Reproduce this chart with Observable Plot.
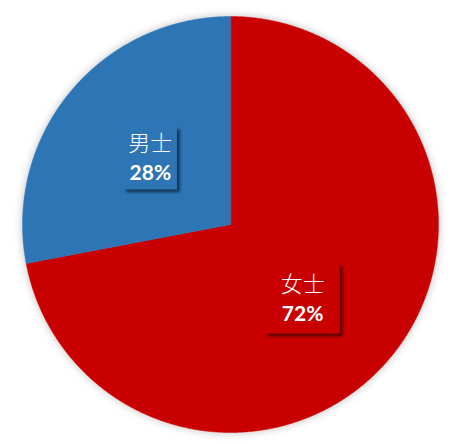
<!DOCTYPE html>
<html>
<head>
<meta charset="utf-8">
<script src="https://cdn.jsdelivr.net/npm/d3@7"></script>
<script src="https://cdn.jsdelivr.net/npm/@observablehq/plot@0.6"></script>
<style>
  html, body { margin: 0; padding: 0; background: #fff; }
</style>
</head>
<body>
<div id="chart"></div>
<script>
// ---- data ----
const categories = ["女士", "男士"];
const shares = [72, 28];
const colors = ["#C80000", "#2E75B6"];

// ---- label styling (pixels) ----
const boxW = [75, 54];
const boxH = [70, 63];
const nudgeX = [-8, 0];
const nudgeY = [8, 0];

const W = 459, H = 444;
const R = 208; // pixel radius
const mL = 22, mR = 21, mT = 16, mB = 12;

// pie geometry from values
const arcs = d3.pie().sort(null).value(d => d)(shares);
const slicePts = [];
arcs.forEach((a, i) => {
  slicePts.push({name: categories[i], x: 0, y: 0});
  const n = Math.max(2, Math.ceil((a.endAngle - a.startAngle) / 0.005));
  for (let k = 0; k <= n; k++) {
    const t = a.startAngle + (a.endAngle - a.startAngle) * k / n;
    slicePts.push({name: categories[i], x: Math.sin(t), y: Math.cos(t)});
  }
});

const labels = arcs.map((a, i) => {
  const m = (a.startAngle + a.endAngle) / 2;
  return {
    name: categories[i],
    pct: shares[i] + "%",
    x: 0.5 * Math.sin(m) + nudgeX[i] / R,
    y: 0.5 * Math.cos(m) - nudgeY[i] / R,
    hw: boxW[i] / 2 / R,
    hh: boxH[i] / 2 / R
  };
});

const plot = Plot.plot({
  width: W, height: H,
  marginLeft: mL, marginRight: mR, marginTop: mT, marginBottom: mB,
  x: {domain: [-1, 1], axis: null},
  y: {domain: [-1, 1], axis: null},
  color: {domain: categories, range: colors},
  marks: [
    Plot.line(slicePts, {x: "x", y: "y", z: "name", fill: "name", stroke: "name", strokeWidth: 0.5, curve: "linear-closed"}),
    Plot.rect(labels, {x1: d => d.x - d.hw, x2: d => d.x + d.hw, y1: d => d.y - d.hh, y2: d => d.y + d.hh, fill: "name"}),
    Plot.text(labels, {x: "x", y: "y", text: "name", dy: -14, fill: "white", fontSize: 22, fontFamily: "'Noto Sans CJK SC', sans-serif", fontWeight: 300}),
    Plot.text(labels, {x: "x", y: "y", text: "pct", dy: 15, fill: "white", fontSize: 21, fontFamily: "Lato, 'Open Sans', sans-serif", fontWeight: "bold"})
  ]
});

const svg = d3.select(plot);
const defs = svg.insert("defs", ":first-child");
const glow = defs.append("filter").attr("id", "pieGlow").attr("x", "-10%").attr("y", "-10%").attr("width", "120%").attr("height", "120%");
glow.append("feDropShadow").attr("dx", 0).attr("dy", 0).attr("stdDeviation", 4).attr("flood-color", "#000").attr("flood-opacity", 0.25);
const sh = defs.append("filter").attr("id", "boxShadow").attr("x", "-20%").attr("y", "-20%").attr("width", "150%").attr("height", "150%");
sh.append("feDropShadow").attr("dx", 3).attr("dy", 3).attr("stdDeviation", 1.5).attr("flood-color", "#000").attr("flood-opacity", 0.55);
svg.select('g[aria-label="line"]').attr("filter", "url(#pieGlow)");
svg.select('g[aria-label="rect"]').attr("filter", "url(#boxShadow)");

document.getElementById("chart").appendChild(plot);
</script>
</body>
</html>
